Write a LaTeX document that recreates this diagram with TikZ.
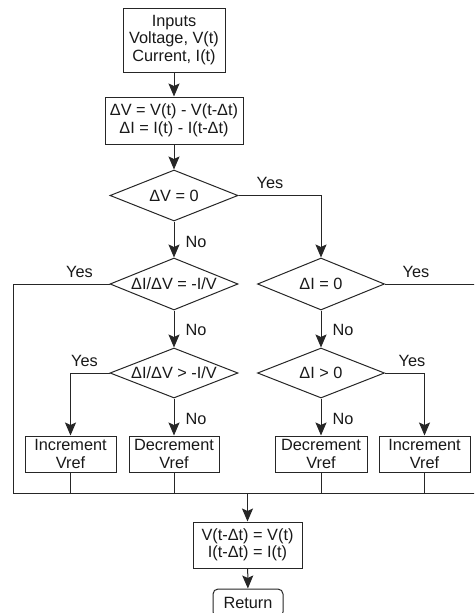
\documentclass[tikz,border=0pt]{standalone}
\usepackage{fontspec}
\setmainfont{Liberation Sans}
\usetikzlibrary{shapes.geometric,arrows.meta}
\begin{document}
\begin{tikzpicture}[x=1pt,y=-1pt,
  every node/.style={font=\fontsize{16.3}{17.5}\selectfont, text=black!90},
  ln/.style={draw=black!85, line width=1pt},
  arr/.style={ln, -{Stealth[length=13pt,width=11pt,inset=2.5pt]}},
  box/.style={ln, rectangle, align=center, inner sep=0pt},
  dia/.style={ln, diamond, inner sep=0pt, aspect=1},
  lbl/.style={inner sep=0pt}
]
\clip (0,0) rectangle (474,613);
\useasboundingbox (0,0) rectangle (474,613);
\fill[white] (0,0) rectangle (474,613);

% boxes
\node[box, minimum width=102pt, minimum height=64pt] (inp) at (174,40) {Inputs\\Voltage, V(t)\\Current, I(t)};
\node[box, minimum width=138pt, minimum height=47pt] (dlt) at (174,120.5) {ΔV = V(t) - V(t-Δt)\\ΔI = I(t) - I(t-Δt)};

% diamonds
\node[dia, minimum width=128pt, minimum height=51pt] (d1) at (174,195.5) {\makebox[0pt]{ΔV = 0}};
\node[dia, minimum width=128pt, minimum height=52pt] (d2) at (174,284) {\makebox[0pt]{ΔI/ΔV = -I/V}};
\node[dia, minimum width=127pt, minimum height=52pt] (d3) at (321,284) {\makebox[0pt]{ΔI = 0}};
\node[dia, minimum width=128pt, minimum height=50pt] (d4) at (174,373) {\makebox[0pt]{ΔI/ΔV > -I/V}};
\node[dia, minimum width=127pt, minimum height=50pt] (d5) at (321,373) {\makebox[0pt]{ΔI > 0}};

% action boxes
\node[box, minimum width=91pt, minimum height=36pt] (b1) at (70.5,454) {Increment\\Vref};
\node[box, minimum width=90pt, minimum height=36pt] (b2) at (174,454) {Decrement\\Vref};
\node[box, minimum width=92pt, minimum height=36pt] (b3) at (321,454) {Decrement\\Vref};
\node[box, minimum width=91pt, minimum height=36pt] (b4) at (424.5,454) {Increment\\Vref};

\node[box, minimum width=109pt, minimum height=46pt] (fin) at (247.5,545) {V(t-Δt) = V(t)\\I(t-Δt) = I(t)};
\node[box, rounded corners=5pt, minimum width=70pt, minimum height=28pt] (ret) at (248,603) {Return};

% merge coordinates
\coordinate (ml) at (13,493);
\coordinate (mr) at (476,493);
\coordinate (mc) at (247.5,493);
\coordinate (cl) at (13,284);
\coordinate (cr) at (476,284);

% connectors
\draw[arr] (inp) -- (dlt);
\draw[arr] (dlt) -- (d1);
\draw[arr] (d1) -- (d2);
\draw[arr] (d1.east) -| (d3.north);
\draw[arr] (d2) -- (d4);
\draw[arr] (d3) -- (d5);
\draw[arr] (d4) -- (b2);
\draw[arr] (d5) -- (b3);
\draw[arr] (d4.west) -| (b1.north);
\draw[arr] (d5.east) -| (b4.north);
\draw[ln] (d2.west) -- (cl) -- (ml) -- (mr) -- (cr) -- (d3.east);
\draw[ln] (b1.south) -- (b1.south |- ml);
\draw[ln] (b2.south) -- (b2.south |- ml);
\draw[ln] (b3.south) -- (b3.south |- ml);
\draw[ln] (b4.south) -- (b4.south |- ml);
\draw[arr] (mc) -- (fin);
\draw[arr] (fin) -- (ret);

% labels
\node[lbl] (y1) at (270,183) {Yes};
\node[lbl] (y2) at (79.5,271.5) {Yes};
\node[lbl] (y3) at (416,271.5) {Yes};
\node[lbl] (y4) at (84.5,360.5) {Yes};
\node[lbl] (y5) at (412,360.5) {Yes};
\node[lbl] (n1) at (196,241.5) {No};
\node[lbl] (n2) at (196,330) {No};
\node[lbl] (n3) at (343,330) {No};
\node[lbl] (n4) at (196,419) {No};
\node[lbl] (n5) at (343,419) {No};
\end{tikzpicture}
\end{document}
